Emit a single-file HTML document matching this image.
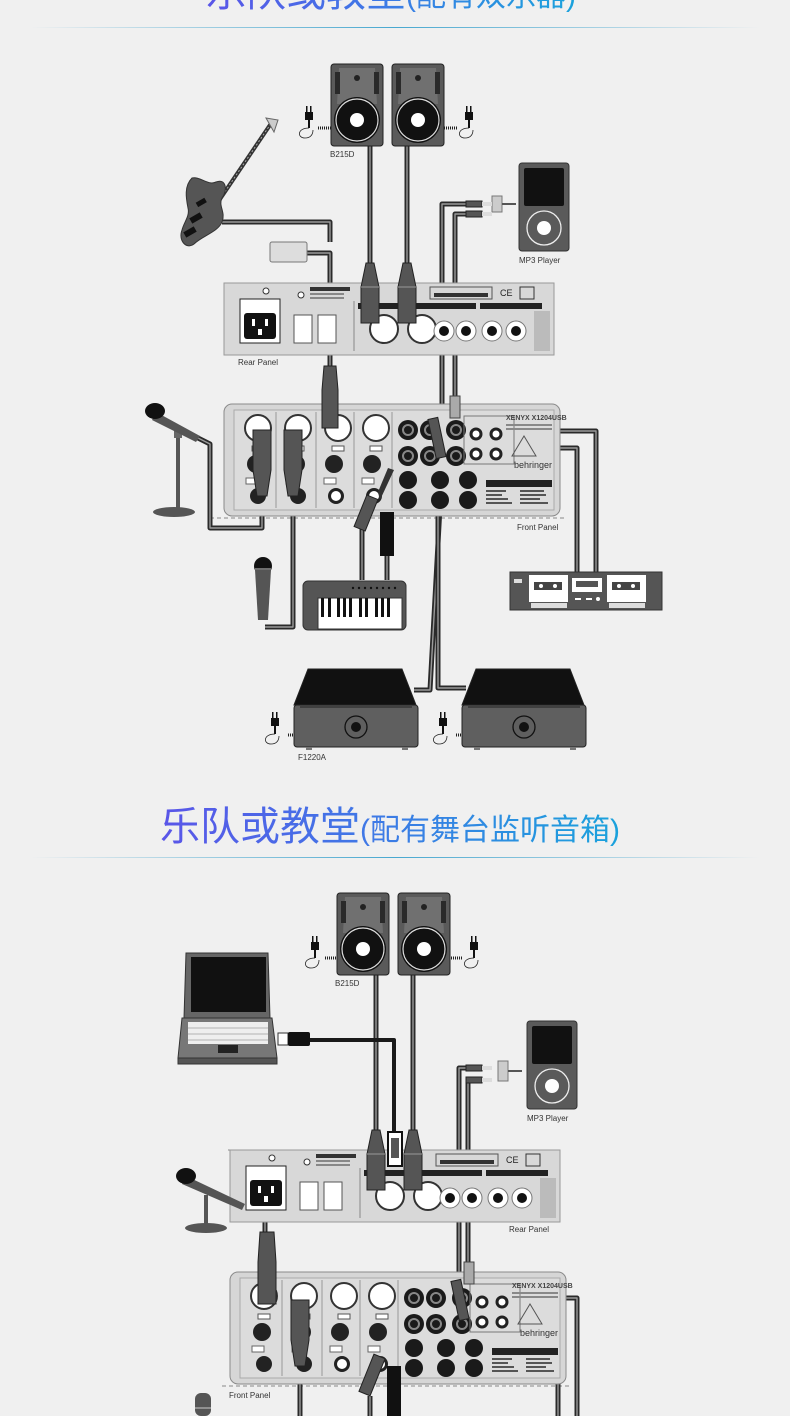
<!DOCTYPE html>
<html><head><meta charset="utf-8">
<style>
html,body{margin:0;padding:0;background:#f0f0f0;}
body{width:790px;height:1416px;position:relative;overflow:hidden;font-family:"Liberation Sans","Noto Sans CJK SC",sans-serif;}
.t{position:absolute;white-space:nowrap;background:linear-gradient(90deg,#5a55e8 0%,#3f78e6 45%,#1aa2dc 100%);-webkit-background-clip:text;background-clip:text;color:transparent;}
.t .b{font-size:40px;}
.t .s{font-size:30px;}
.hr{position:absolute;left:30px;width:730px;height:1px;background:linear-gradient(90deg,rgba(30,150,200,0),rgba(30,150,200,.8) 50%,rgba(30,150,200,0));}
svg{position:absolute;left:0;top:0;}
.c{fill:none;stroke:#2a2a2a;stroke-width:5;stroke-linejoin:round;}
.ci{fill:none;stroke:#9a9a9a;stroke-width:1.4;stroke-linejoin:round;}
.lbl{font-family:"Liberation Sans",sans-serif;font-size:8px;fill:#333;}
</style></head><body>
<div class="t" style="left:206px;top:-40px;"><span class="b">乐队或教堂</span><span class="s">(配有双乐器)</span></div>
<div class="hr" style="top:27px;"></div>
<div class="t" style="left:160px;top:794px;"><span class="b">乐队或教堂</span><span class="s">(配有舞台监听音箱)</span></div>
<div class="hr" style="top:857px;"></div>

<svg width="790" height="1416" viewBox="0 0 790 1416" xmlns="http://www.w3.org/2000/svg">
<defs>
<g id="spk">
 <rect x="0" y="0" width="52" height="82" rx="3" fill="#5a5a5a" stroke="#222"/>
 <path d="M8 4 L44 4 L46 40 L6 40 Z" fill="#707070"/>
 <rect x="4" y="8" width="5" height="22" fill="#2a2a2a"/><rect x="43" y="8" width="5" height="22" fill="#2a2a2a"/>
 <circle cx="26" cy="14" r="3" fill="#222"/>
 <circle cx="26" cy="56" r="23" fill="#111"/><circle cx="26" cy="56" r="21" fill="none" stroke="#ddd" stroke-width="1.2"/>
 <circle cx="26" cy="56" r="7" fill="#fff"/>
</g>
<g id="plug">
 <rect x="0" y="0" width="8" height="8" fill="#111"/><rect x="1" y="-6" width="1.5" height="6" fill="#111"/><rect x="5" y="-6" width="1.5" height="6" fill="#111"/>
 <rect x="3" y="8" width="2" height="8" fill="#111"/>
 <path d="M4 16 C-8 16 -8 26 0 26 C6 26 8 22 8 18" fill="none" stroke="#222" stroke-width=".8"/>
</g>
<g id="mp3">
 <rect x="0" y="0" width="50" height="88" rx="3" fill="#5a5a5a" stroke="#333"/>
 <rect x="5" y="5" width="40" height="38" rx="2" fill="#111"/>
 <circle cx="25" cy="65" r="17" fill="none" stroke="#eee" stroke-width="1.3"/>
 <circle cx="25" cy="65" r="7" fill="#fff"/>
</g>
<g id="rear">
 <rect x="0" y="0" width="330" height="72" fill="#d8d8d8" stroke="#999"/>
 <rect x="16" y="16" width="40" height="44" fill="#fff" stroke="#222"/>
 <rect x="20" y="30" width="32" height="26" rx="3" fill="#111"/>
 <rect x="28" y="36" width="3" height="7" fill="#fff"/><rect x="41" y="36" width="3" height="7" fill="#fff"/><rect x="34" y="46" width="4" height="6" fill="#fff"/>
 <rect x="70" y="32" width="18" height="28" fill="#fff" stroke="#555"/><rect x="94" y="32" width="18" height="28" fill="#fff" stroke="#555"/>
 <circle cx="42" cy="8" r="3" fill="#fff" stroke="#333"/><circle cx="77" cy="12" r="3" fill="#fff" stroke="#333"/>
 <rect x="86" y="4" width="40" height="4" fill="#333"/><rect x="86" y="10" width="34" height="2" fill="#888"/><rect x="86" y="14" width="34" height="2" fill="#888"/>
 <line x1="130" y1="18" x2="130" y2="68" stroke="#888"/>
 <rect x="134" y="20" width="80" height="6" fill="#222"/>
 <circle cx="160" cy="46" r="14" fill="#fff" stroke="#333" stroke-width="2"/><circle cx="198" cy="46" r="14" fill="#fff" stroke="#333" stroke-width="2"/>
 <rect x="206" y="20" width="46" height="6" fill="#222"/><rect x="256" y="20" width="62" height="6" fill="#222"/>
 <circle cx="220" cy="48" r="10" fill="#fff" stroke="#777"/><circle cx="220" cy="48" r="5" fill="#111"/>
 <circle cx="242" cy="48" r="10" fill="#fff" stroke="#777"/><circle cx="242" cy="48" r="5" fill="#111"/>
 <circle cx="268" cy="48" r="10" fill="#fff" stroke="#777"/><circle cx="268" cy="48" r="5" fill="#111"/>
 <circle cx="292" cy="48" r="10" fill="#fff" stroke="#777"/><circle cx="292" cy="48" r="5" fill="#111"/>
 <rect x="206" y="4" width="62" height="12" fill="none" stroke="#555"/><rect x="210" y="10" width="54" height="4" fill="#333"/>
 <text x="276" y="13" font-size="9" font-family="Liberation Sans" fill="#222">CE</text>
 <rect x="296" y="4" width="14" height="12" fill="none" stroke="#333"/>
 <rect x="310" y="28" width="16" height="40" fill="#bbb"/>
</g>
<g id="front">
 <rect x="0" y="0" width="336" height="112" rx="8" fill="#d6d6d6" stroke="#8a8a8a"/>
 <rect x="10" y="6" width="320" height="100" fill="#dcdcdc" stroke="#aaa"/>
 <g fill="#fff" stroke="#333" stroke-width="2">
  <circle cx="34" cy="24" r="13"/><circle cx="74" cy="24" r="13"/><circle cx="114" cy="24" r="13"/><circle cx="152" cy="24" r="13"/>
 </g>
 <g fill="#fff" stroke="#555"><rect x="28" y="42" width="12" height="5"/><rect x="68" y="42" width="12" height="5"/><rect x="108" y="42" width="12" height="5"/><rect x="146" y="42" width="12" height="5"/></g>
 <g fill="#222"><circle cx="32" cy="60" r="9"/><circle cx="72" cy="60" r="9"/><circle cx="110" cy="60" r="9"/><circle cx="148" cy="60" r="9"/>
  <circle cx="34" cy="92" r="8"/><circle cx="74" cy="92" r="8"/><circle cx="112" cy="92" r="8"/><circle cx="150" cy="92" r="8"/></g>
 <g fill="#fff"><circle cx="112" cy="92" r="5"/><circle cx="150" cy="92" r="5"/></g>
 <g stroke="#999"><line x1="52" y1="8" x2="52" y2="104"/><line x1="92" y1="8" x2="92" y2="104"/><line x1="130" y1="8" x2="130" y2="104"/><line x1="168" y1="8" x2="168" y2="104"/></g>
 <g fill="#fff" stroke="#666"><rect x="22" y="74" width="12" height="6"/><rect x="62" y="74" width="12" height="6"/><rect x="100" y="74" width="12" height="6"/><rect x="138" y="74" width="12" height="6"/></g>
 <g fill="#1a1a1a">
  <circle cx="184" cy="26" r="10"/><circle cx="206" cy="26" r="10"/><circle cx="232" cy="26" r="10"/>
  <circle cx="184" cy="52" r="10"/><circle cx="206" cy="52" r="10"/><circle cx="232" cy="52" r="10"/>
  <circle cx="184" cy="76" r="9"/><circle cx="184" cy="96" r="9"/><circle cx="216" cy="76" r="9"/><circle cx="216" cy="96" r="9"/><circle cx="244" cy="76" r="9"/><circle cx="244" cy="96" r="9"/>
 </g>
 <g fill="none" stroke="#888" stroke-width="2">
  <circle cx="184" cy="26" r="5"/><circle cx="206" cy="26" r="5"/><circle cx="232" cy="26" r="5"/><circle cx="184" cy="52" r="5"/><circle cx="206" cy="52" r="5"/><circle cx="232" cy="52" r="5"/>
 </g>
 <rect x="240" y="12" width="50" height="48" fill="none" stroke="#777"/>
 <g fill="#fff" stroke="#222" stroke-width="3"><circle cx="252" cy="30" r="5"/><circle cx="252" cy="50" r="5"/><circle cx="272" cy="30" r="5"/><circle cx="272" cy="50" r="5"/></g>
 <text x="282" y="16" font-size="7" font-weight="bold" font-family="Liberation Sans" fill="#444">XENYX X1204USB</text>
 <rect x="282" y="20" width="46" height="2" fill="#888"/><rect x="282" y="24" width="46" height="2" fill="#888"/>
 <path d="M300 32 L312 52 L288 52 Z" fill="none" stroke="#555"/>
 <text x="290" y="64" font-size="9" font-family="Liberation Sans" fill="#333">behringer</text>
 <rect x="262" y="76" width="66" height="7" fill="#222"/>
 <g fill="#555"><rect x="262" y="86" width="20" height="2"/><rect x="296" y="86" width="24" height="2"/><rect x="262" y="90" width="16" height="2"/><rect x="296" y="90" width="26" height="2"/><rect x="262" y="94" width="22" height="2"/><rect x="296" y="94" width="20" height="2"/><rect x="262" y="98" width="26" height="2"/><rect x="296" y="98" width="28" height="2"/></g>
</g>
<g id="mon">
 <path d="M14 4 L108 4 L122 40 L0 40 Z" fill="#111" stroke="#222"/>
 <rect x="0" y="40" width="124" height="42" rx="3" fill="#5f5f5f" stroke="#222"/>
 <circle cx="62" cy="62" r="11" fill="none" stroke="#111" stroke-width="1.3"/><circle cx="62" cy="62" r="5" fill="#111"/>
 <line x1="6" y1="42" x2="118" y2="42" stroke="#222"/>
 <rect x="12" y="82" width="6" height="3" fill="#777"/><rect x="108" y="82" width="6" height="3" fill="#777"/>
</g>
<g id="xlrd"><path d="M3 0 L11 0 L16 24 L16 60 L-2 60 L-2 24 Z" fill="#555" stroke="#222"/><line x1="-2" y1="24" x2="16" y2="24" stroke="#999"/></g>
</defs>

<line x1="224" y1="283" x2="554" y2="283" stroke="#888" stroke-dasharray="4 3"/>
<line x1="210" y1="518" x2="566" y2="518" stroke="#888" stroke-dasharray="4 3"/>
<g>
 <path class="c" d="M370 146 V270"/><path class="ci" d="M370 146 V270"/>
 <path class="c" d="M407 146 V270"/><path class="ci" d="M407 146 V270"/>
 <path class="c" d="M222 222 H330 V242"/><path class="ci" d="M222 222 H330 V242"/>
 <path class="c" d="M306 253 H330 V370"/><path class="ci" d="M306 253 H330 V370"/>
 <path class="c" d="M466 204 H442 V470 L430 690 H414"/><path class="ci" d="M466 204 H442 V470 L430 690 H414"/>
 <path class="c" d="M466 214 H455 V410"/><path class="ci" d="M466 214 H455 V410"/>
 <path class="c" d="M438 460 V688 H466"/><path class="ci" d="M438 460 V688 H466"/>
 <path class="c" d="M485 431 H596 V572"/><path class="ci" d="M485 431 H596 V572"/>
 <path class="c" d="M485 448 H577 V572"/><path class="ci" d="M485 448 H577 V572"/>
 <path class="c" d="M198 438 L210 444 V528 H262 V500"/><path class="ci" d="M198 438 L210 444 V528 H262 V500"/>
 <path class="c" d="M265 627 H293 V500"/><path class="ci" d="M265 627 H293 V500"/>
 <path class="c" d="M362 580 V520"/><path class="ci" d="M362 580 V520"/>
 <path class="c" d="M387 580 V540"/><path class="ci" d="M387 580 V540"/>
</g>
<use href="#spk" x="331" y="64"/><use href="#spk" x="392" y="64"/>
<path d="M318 128 H331" stroke="#222" stroke-width="3" stroke-dasharray="1 1"/><path d="M444 128 H457" stroke="#222" stroke-width="3" stroke-dasharray="1 1"/>
<use href="#plug" x="305" y="112"/><use href="#plug" x="465" y="112"/>
<text class="lbl" x="330" y="157">B215D</text>
<g>
 <line x1="216" y1="205" x2="272" y2="122" stroke="#333" stroke-width="4"/>
 <line x1="216" y1="205" x2="272" y2="122" stroke="#aaa" stroke-width="1" stroke-dasharray="2 2"/>
 <path d="M266 118 L278 120 L274 132 Z" fill="#ccc" stroke="#666"/>
 <path d="M192 178 C200 176 208 186 216 182 C226 178 228 190 222 198 C218 206 226 212 222 222 C218 232 202 236 194 244 C186 250 178 240 182 230 C184 222 190 216 188 208 C186 198 184 186 192 178 Z" fill="#555" stroke="#333"/>
 <rect x="196" y="200" width="10" height="5" fill="#111" transform="rotate(-30 201 202)"/>
 <rect x="190" y="215" width="12" height="6" fill="#111" transform="rotate(-30 196 218)"/>
 <rect x="184" y="229" width="12" height="6" fill="#111" transform="rotate(-30 190 232)"/>
</g>
<rect x="270" y="242" width="37" height="20" rx="2" fill="#ddd" stroke="#777"/>
<use href="#mp3" x="519" y="163"/>
<path d="M492 196 H502 V212 H492 Z" fill="#ccc" stroke="#777"/><line x1="502" y1="204" x2="516" y2="204" stroke="#555" stroke-width="2"/>
<rect x="466" y="201" width="16" height="6" fill="#555" stroke="#222"/><rect x="466" y="211" width="16" height="6" fill="#555" stroke="#222"/>
<rect x="482" y="202" width="10" height="4" fill="#ddd"/><rect x="482" y="212" width="10" height="4" fill="#ddd"/>
<text class="lbl" x="519" y="263">MP3 Player</text>
<use href="#rear" x="224" y="283"/>
<text class="lbl" x="238" y="365">Rear Panel</text>
<use href="#xlrd" x="363" y="263"/><use href="#xlrd" x="400" y="263"/>
<use href="#front" x="224" y="404"/>
<text class="lbl" x="517" y="530">Front Panel</text>
<g transform="translate(322 366)"><path d="M2 0 L14 0 L16 24 L16 62 L0 62 L0 24 Z" fill="#555" stroke="#222"/></g>
<g transform="translate(253 430)"><path d="M0 0 L18 0 L18 40 L14 66 L4 66 L0 40 Z" fill="#555" stroke="#222"/></g>
<g transform="translate(284 430)"><path d="M0 0 L18 0 L18 40 L14 66 L4 66 L0 40 Z" fill="#555" stroke="#222"/></g>
<path d="M378 492 L388 468 L394 470 L380 500 Z" fill="#333"/><rect x="360" y="496" width="12" height="34" fill="#555" stroke="#222" transform="rotate(22 366 513)"/>
<rect x="380" y="512" width="14" height="44" fill="#111"/>
<rect x="432" y="418" width="10" height="40" fill="#555" stroke="#222" transform="rotate(-12 437 438)"/>
<rect x="450" y="396" width="10" height="22" fill="#aaa" stroke="#444"/>
<g>
 <line x1="178" y1="434" x2="178" y2="512" stroke="#555" stroke-width="4"/>
 <rect x="174" y="428" width="8" height="10" fill="#666"/>
 <ellipse cx="174" cy="512" rx="21" ry="5" fill="#555"/>
 <path d="M156 412 L200 436 L196 442 L152 420 Z" fill="#555"/>
 <ellipse cx="155" cy="411" rx="10" ry="8" fill="#111"/>
</g>
<g transform="translate(510 572)">
 <rect x="0" y="0" width="152" height="38" fill="#555" stroke="#333"/>
 <rect x="4" y="7" width="8" height="4" fill="#ddd"/>
 <rect x="19" y="3" width="39" height="27" fill="#fff"/><rect x="24" y="10" width="28" height="8" fill="#444"/><circle cx="31" cy="14" r="2" fill="#fff"/><circle cx="45" cy="14" r="2" fill="#fff"/>
 <rect x="97" y="3" width="39" height="27" fill="#fff"/><rect x="102" y="10" width="28" height="8" fill="#444"/><circle cx="109" cy="14" r="2" fill="#fff"/><circle cx="123" cy="14" r="2" fill="#fff"/>
 <rect x="62" y="6" width="30" height="14" fill="#fff"/><rect x="66" y="9" width="22" height="6" fill="#555"/>
 <rect x="21" y="31" width="36" height="5" fill="#ddd"/><rect x="99" y="31" width="36" height="5" fill="#ddd"/>
 <rect x="65" y="26" width="6" height="2" fill="#fff"/><rect x="76" y="26" width="6" height="2" fill="#fff"/><circle cx="88" cy="27" r="2" fill="#fff"/>
</g>
<g><ellipse cx="263" cy="566" rx="9" ry="9" fill="#111"/><path d="M255 570 L271 570 L268 620 L258 620 Z" fill="#555"/><line x1="255" y1="569" x2="271" y2="569" stroke="#ccc"/></g>
<g transform="translate(303 581)">
 <rect x="0" y="0" width="103" height="49" rx="5" fill="#555" stroke="#333"/>
 <rect x="15" y="17" width="84" height="31" fill="#fff" stroke="#333"/>
 <g fill="#111"><rect x="18" y="17" width="3" height="19"/><rect x="25" y="17" width="3" height="19"/><rect x="34" y="17" width="3" height="19"/><rect x="40" y="17" width="3" height="19"/><rect x="46" y="17" width="3" height="19"/><rect x="56" y="17" width="3" height="19"/><rect x="62" y="17" width="3" height="19"/><rect x="72" y="17" width="3" height="19"/><rect x="78" y="17" width="3" height="19"/><rect x="84" y="17" width="3" height="19"/></g>
 <g fill="#111"><circle cx="50" cy="7" r="1.2"/><circle cx="56" cy="7" r="1.2"/><circle cx="62" cy="7" r="1.2"/><circle cx="68" cy="7" r="1.2"/><circle cx="74" cy="7" r="1.2"/><circle cx="80" cy="7" r="1.2"/><circle cx="86" cy="7" r="1.2"/><circle cx="92" cy="7" r="1.2"/></g>
</g>
<use href="#mon" x="294" y="665"/><use href="#mon" x="462" y="665"/>
<path d="M288 735 H294" stroke="#222" stroke-width="3" stroke-dasharray="1 1"/><path d="M456 735 H462" stroke="#222" stroke-width="3" stroke-dasharray="1 1"/>
<use href="#plug" x="271" y="718"/><use href="#plug" x="439" y="718"/>
<text class="lbl" x="298" y="760">F1220A</text>

<line x1="228" y1="1150" x2="560" y2="1150" stroke="#888" stroke-dasharray="4 3"/>
<line x1="222" y1="1386" x2="572" y2="1386" stroke="#888" stroke-dasharray="4 3"/>
<g>
 <path class="c" d="M376 975 V1135"/><path class="ci" d="M376 975 V1135"/>
 <path class="c" d="M413 975 V1135"/><path class="ci" d="M413 975 V1135"/>
 <path d="M310 1040 H394 V1135" fill="none" stroke="#1a1a1a" stroke-width="4" stroke-linejoin="round"/>
 <path class="c" d="M466 1068 H459 V1300"/><path class="ci" d="M466 1068 H459 V1300"/>
 <path class="c" d="M466 1080 H468 V1278"/><path class="ci" d="M466 1080 H468 V1278"/>
 <path class="c" d="M490 1298 H577 V1416"/><path class="ci" d="M490 1298 H577 V1416"/>
 <path class="c" d="M490 1316 H558 V1416"/><path class="ci" d="M490 1316 H558 V1416"/>
 <path class="c" d="M240 1200 L265 1215 V1236"/><path class="ci" d="M240 1200 L265 1215 V1236"/>
 <path class="c" d="M300 1360 V1416"/><path class="ci" d="M300 1360 V1416"/>
 <path class="c" d="M370 1396 V1416"/><path class="ci" d="M370 1396 V1416"/>
</g>
<use href="#spk" x="337" y="893"/><use href="#spk" x="398" y="893"/>
<path d="M325 958 H337" stroke="#222" stroke-width="3" stroke-dasharray="1 1"/><path d="M451 958 H463" stroke="#222" stroke-width="3" stroke-dasharray="1 1"/>
<use href="#plug" x="311" y="942"/><use href="#plug" x="470" y="942"/>
<text class="lbl" x="335" y="986">B215D</text>
<g>
 <path d="M186 953 L268 953 L270 1018 L184 1018 Z" fill="#666" stroke="#333"/>
 <rect x="191" y="957" width="75" height="55" fill="#111"/>
 <path d="M182 1018 L272 1018 L277 1058 L178 1058 Z" fill="#777" stroke="#333"/>
 <rect x="188" y="1022" width="80" height="22" fill="#eee"/>
 <g stroke="#777" stroke-width=".6"><line x1="188" y1="1028" x2="268" y2="1028"/><line x1="188" y1="1034" x2="268" y2="1034"/><line x1="188" y1="1040" x2="268" y2="1040"/></g>
 <rect x="218" y="1045" width="20" height="8" fill="#222"/>
 <rect x="178" y="1058" width="99" height="6" fill="#555" stroke="#333"/>
</g>
<rect x="278" y="1033" width="10" height="12" fill="#fff" stroke="#333"/><rect x="288" y="1032" width="22" height="14" rx="2" fill="#111"/>
<use href="#mp3" x="527" y="1021"/>
<path d="M498 1061 H508 V1081 H498 Z" fill="#ccc" stroke="#777"/><line x1="508" y1="1071" x2="522" y2="1071" stroke="#555" stroke-width="2"/>
<rect x="466" y="1065" width="16" height="6" fill="#555" stroke="#222"/><rect x="466" y="1077" width="16" height="6" fill="#555" stroke="#222"/>
<rect x="482" y="1066" width="10" height="4" fill="#ddd"/><rect x="482" y="1078" width="10" height="4" fill="#ddd"/>
<text class="lbl" x="527" y="1121">MP3 Player</text>
<use href="#rear" x="230" y="1150"/>
<text class="lbl" x="509" y="1232">Rear Panel</text>
<use href="#xlrd" x="369" y="1130"/><use href="#xlrd" x="406" y="1130"/>
<rect x="388" y="1132" width="14" height="34" fill="#fff" stroke="#111" stroke-width="2"/><rect x="391" y="1138" width="8" height="20" fill="#555"/>
<g>
 <line x1="206" y1="1195" x2="206" y2="1225" stroke="#555" stroke-width="4"/>
 <ellipse cx="206" cy="1228" rx="21" ry="5" fill="#555"/>
 <path d="M186 1176 L245 1204 L242 1210 L182 1184 Z" fill="#555"/>
 <ellipse cx="186" cy="1176" rx="10" ry="8" fill="#111"/>
</g>
<use href="#front" x="230" y="1272"/>
<text class="lbl" x="229" y="1398">Front Panel</text>
<g transform="translate(258 1232)"><path d="M2 0 L16 0 L18 30 L18 72 L0 72 L0 30 Z" fill="#555" stroke="#222"/></g>
<g transform="translate(291 1300)"><path d="M0 0 L18 0 L18 40 L14 66 L4 66 L0 40 Z" fill="#555" stroke="#222"/></g>
<rect x="366" y="1355" width="12" height="40" fill="#555" stroke="#222" transform="rotate(22 372 1375)"/>
<rect x="387" y="1366" width="14" height="50" fill="#111"/>
<rect x="455" y="1280" width="10" height="40" fill="#555" stroke="#222" transform="rotate(-12 460 1300)"/>
<rect x="464" y="1262" width="10" height="22" fill="#aaa" stroke="#444"/>
<rect x="195" y="1393" width="16" height="23" rx="6" fill="#555"/><line x1="195" y1="1408" x2="211" y2="1408" stroke="#ccc"/>
</svg>
</body></html>
